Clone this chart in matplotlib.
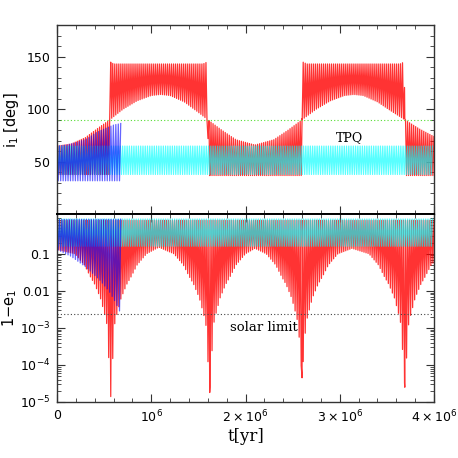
import numpy as np
import matplotlib
matplotlib.use("Agg")
import matplotlib.pyplot as plt
from matplotlib.ticker import MultipleLocator, FixedLocator, NullFormatter

# =====================================================
# DATA  (times in Myr)
# =====================================================

t_end = 4.0

# red orbit: oscillation period and the times of the flips / e-maxima
red_period = 0.0215
red_dip_t = [0.57, 1.62, 2.60, 3.69]

# red inclination: smooth branch
red_base_t = [0, 0.15, 0.3, 0.45, 0.56, 0.7, 0.85, 1.0, 1.1, 1.2, 1.35, 1.5,
              1.6, 1.75, 1.9, 2.1, 2.3, 2.45, 2.6, 2.75, 2.9, 3.05, 3.15,
              3.25, 3.4, 3.55, 3.69, 3.85, 4.0]
red_base_i = [65, 67, 73, 83, 90, 100, 108, 113, 114, 113, 107, 97,
              90, 80, 71, 66, 71, 80, 90, 100, 108, 113, 114,
              113, 107, 98, 90, 81, 74]

# red inclination: spike tips
red_tip_t = [0, 0.555, 0.565, 0.60, 1.55, 1.595, 1.605, 2.595, 2.605, 2.65,
             3.64, 3.685, 3.695, 4.0]
red_tip_i = [38, 38, 145, 143, 143, 145, 37, 37, 145, 143,
             143, 145, 37, 37]

# red 1-e: upper level and the arches of the spike tips
red_top_t = [0, 4.0]
red_top_e = [0.8, 0.8]
red_arch_t = [0, 0.19, 0.29, 0.35, 0.40, 0.46, 0.51, 0.53, 0.57, 0.61, 0.63,
              0.68, 0.74, 0.79, 0.85, 0.95, 1.08,
              1.24, 1.34, 1.40, 1.45, 1.51, 1.56, 1.58, 1.62, 1.66, 1.68,
              1.73, 1.79, 1.84, 1.90, 2.0, 2.1,
              2.22, 2.32, 2.38, 2.43, 2.49, 2.54, 2.56, 2.60, 2.64, 2.66,
              2.71, 2.77, 2.82, 2.88, 2.98, 3.13,
              3.31, 3.41, 3.47, 3.52, 3.58, 3.63, 3.65, 3.69, 3.73, 3.75,
              3.80, 3.86, 3.91, 3.97, 4.0]
red_arch_e = [0.13, 0.1, 0.05, 0.025, 0.015, 6.4e-3, 2.1e-3, 1.2e-3, 1.4e-5, 1.2e-3, 2.1e-3,
              6.4e-3, 0.015, 0.025, 0.05, 0.1, 0.15,
              0.1, 0.05, 0.025, 0.015, 6.4e-3, 2.1e-3, 1.2e-3, 1.8e-5, 1.2e-3, 2.1e-3,
              6.4e-3, 0.015, 0.025, 0.05, 0.1, 0.14,
              0.1, 0.05, 0.025, 0.015, 6.4e-3, 2.1e-3, 1.2e-3, 4.5e-5, 1.2e-3, 2.1e-3,
              6.4e-3, 0.015, 0.025, 0.05, 0.1, 0.14,
              0.1, 0.05, 0.025, 0.015, 6.4e-3, 2.1e-3, 1.2e-3, 2.5e-5, 1.2e-3, 2.1e-3,
              6.4e-3, 0.015, 0.025, 0.05, 0.06]

# blue orbit (ends at 0.68 Myr)
blue_period = 0.026
blue_end = 0.68
blue_hi_t = [0, 0.1, 0.21, 0.32, 0.42, 0.52, 0.6, 0.68]
blue_hi_i = [65, 66, 68.5, 72, 78, 82, 85, 86.5]
blue_lo_t = [0, 0.68]
blue_lo_i = [32, 32]
blue_top_t = [0, 0.68]
blue_top_e = [0.85, 0.85]
blue_arch_t = [0, 0.15, 0.3, 0.45, 0.55, 0.62, 0.68]
blue_arch_e = [0.13, 0.085, 0.045, 0.02, 0.01, 5e-3, 2.3e-3]

# cyan orbit (TPQ), steady band
cyan_period = 0.024
cyan_t = [0, 4.0]
cyan_hi_i = [65, 65]
cyan_lo_i = [38, 38]
cyan_hi_e = [0.87, 0.87]
cyan_lo_e = [0.16, 0.16]

i_flip = 90
solar_limit = 2.4e-3

# =====================================================
# ZIGZAG BUILDER
# =====================================================

def zigzag(end, period, base_t, base_v, tip_t, tip_v, extra_tips=(), log=False):
    tb = np.arange(0, end + 1e-9, period)
    tt = np.concatenate([tb[:-1] + period / 2, np.asarray(extra_tips, float)])
    t = np.concatenate([tb, tt])
    is_tip = np.concatenate([np.zeros(len(tb)), np.ones(len(tt))]).astype(bool)
    order = np.argsort(t, kind="stable")
    t = t[order]
    is_tip = is_tip[order]
    if log:
        b = 10 ** np.interp(t, base_t, np.log10(base_v))
        s = 10 ** np.interp(t, tip_t, np.log10(tip_v))
    else:
        b = np.interp(t, base_t, base_v)
        s = np.interp(t, tip_t, tip_v)
    return t * 1e6, np.where(is_tip, s, b)

dips_in_range = [d for d in red_dip_t if d <= t_end]

red_ti, red_i = zigzag(t_end, red_period, red_base_t, red_base_i,
                       red_tip_t, red_tip_i, dips_in_range)
red_te, red_e = zigzag(t_end, red_period, red_top_t, red_top_e,
                       red_arch_t, red_arch_e, dips_in_range, log=True)
blue_ti, blue_i = zigzag(blue_end, blue_period, blue_hi_t, blue_hi_i,
                         blue_lo_t, blue_lo_i)
blue_te, blue_e = zigzag(blue_end, blue_period, blue_top_t, blue_top_e,
                         blue_arch_t, blue_arch_e, log=True)
cyan_ti, cyan_i = zigzag(t_end, cyan_period, cyan_t, cyan_hi_i,
                         cyan_t, cyan_lo_i)
cyan_te, cyan_e = zigzag(t_end, cyan_period, cyan_t, cyan_hi_e,
                         cyan_t, cyan_lo_e, log=True)

# =====================================================
# PLOT
# =====================================================

fig = plt.figure(figsize=(4.58, 4.58), dpi=100)
ax1 = fig.add_axes([0.1245, 0.5317, 0.8231, 0.4137])
ax2 = fig.add_axes([0.1245, 0.1223, 0.8231, 0.4094])

lw = 0.9

ax1.plot(red_ti, red_i, color="red", lw=lw, alpha=0.8)
ax1.plot(cyan_ti, cyan_i, color="cyan", lw=lw, alpha=0.65)
ax1.plot(blue_ti, blue_i, color="blue", lw=lw, alpha=0.6)
ax1.axhline(i_flip, color="#55dd33", lw=0.8, ls=(0, (1, 2)))
ax1.text(3.1e6, 73, "TPQ", fontsize=9, family="DejaVu Serif",
         ha="center", va="center")

ax2.plot(red_te, red_e, color="red", lw=lw, alpha=0.8)
ax2.plot(cyan_te, cyan_e, color="cyan", lw=lw, alpha=0.65)
ax2.plot(blue_te, blue_e, color="blue", lw=lw, alpha=0.6)
ax2.axhline(solar_limit, color="#444444", lw=0.8, ls=(0, (1, 2)))
ax2.text(2.2e6, 1.0e-3, "solar limit", fontsize=9.5, family="DejaVu Serif",
         ha="center", va="center")

ax1.set_xlim(0, 4e6)
ax2.set_xlim(0, 4e6)
ax1.set_ylim(0, 180)
ax2.set_yscale("log")
ax2.set_ylim(1e-5, 1.15)

for ax in (ax1, ax2):
    ax.xaxis.set_major_locator(MultipleLocator(1e6))
    ax.xaxis.set_minor_locator(MultipleLocator(2e5))
    ax.tick_params(which="both", direction="in", top=True, right=True,
                   color="#333333", labelsize=9, pad=5)
    ax.tick_params(which="major", length=6, width=0.8)
    ax.tick_params(which="minor", length=3, width=0.6)
    for s in ax.spines.values():
        s.set_color("#333333")
        s.set_linewidth(1.0)

ax1.spines["bottom"].set_color("black")
ax1.spines["bottom"].set_linewidth(1.4)
ax2.spines["top"].set_color("black")
ax2.spines["top"].set_linewidth(1.4)

ax1.set_yticks([50, 100, 150])
ax1.yaxis.set_minor_locator(MultipleLocator(10))
ax1.xaxis.set_major_formatter(NullFormatter())

ax2.set_yticks([1e-5, 1e-4, 1e-3, 1e-2, 1e-1])
ax2.set_yticklabels([r"$10^{-5}$", r"$10^{-4}$", r"$10^{-3}$", "0.01", "0.1"])
minor_e = [m * 10.0 ** k for k in range(-5, 1) for m in range(2, 10)]
ax2.yaxis.set_minor_locator(FixedLocator(minor_e))
ax2.yaxis.set_minor_formatter(NullFormatter())

ax2.set_xticks([0, 1e6, 2e6, 3e6, 4e6])
ax2.set_xticklabels(["0", r"$10^6$", r"$2\times10^6$", r"$3\times10^6$", r"$4\times10^6$"])

ax1.set_ylabel(r"i$_1$ [deg]", fontsize=10.5)
ax2.set_ylabel(r"1$-$e$_1$", fontsize=10.5)
ax2.set_xlabel("t[yr]", fontsize=12, family="DejaVu Serif", labelpad=2)
ax1.yaxis.set_label_coords(-0.095, 0.5)
ax2.yaxis.set_label_coords(-0.10, 0.5)

fig.savefig("out.png", dpi=100)
